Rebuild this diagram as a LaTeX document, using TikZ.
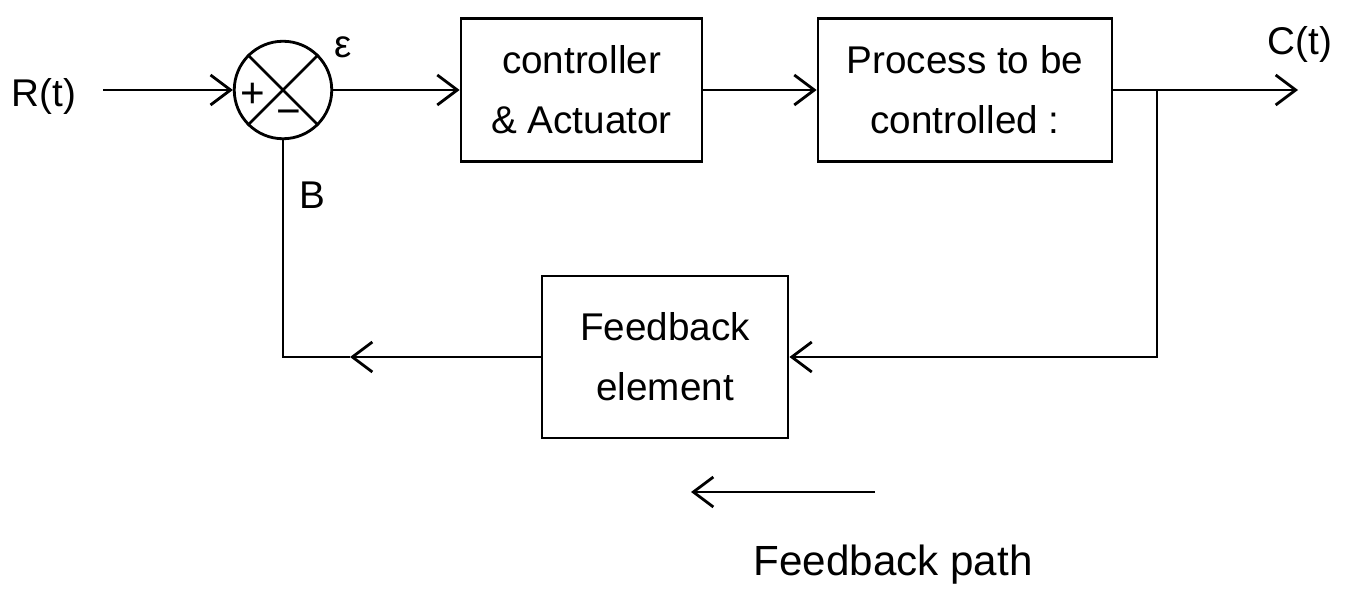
\documentclass[tikz,border=0pt]{standalone}
\usepackage{fontspec}
\setmainfont{Liberation Sans}
\usetikzlibrary{arrows.meta}

\begin{document}
\begin{tikzpicture}
        [
            wire/.style = {line width = 1.6pt},
            signal/.style = {line width = 1.6pt, -{Straight Barb[length = 4mm, width = 6mm]}},
            block/.style = {draw, line width = 1.6pt, align = center, font = \fontsize{22}{34}\selectfont},
            lbl/.style = {font = \fontsize{22}{26}\selectfont},
            sign/.style = {font = \fontsize{24}{26}\selectfont, inner sep = 0pt}
        ]

        \useasboundingbox (0,0) rectangle (27,-11.96);

        % forward path
        \node [lbl] (input) at (0.88,-1.94) {R(t)};
        \coordinate (start) at (2.06,-1.8);
        \node [circle, draw, wire, minimum size = 1.95cm] (sum) at (5.66,-1.8) {};
        \draw [wire] (sum.north west) -- (sum.south east);
        \draw [wire] (sum.north east) -- (sum.south west);
        \node [sign] (plus) at ([xshift = -0.6cm, yshift = -0.1cm]sum.center) {+};
        \node [sign] (minus) at ([xshift = 0.12cm, yshift = -0.56cm]sum.center) {−};
        \node [lbl] (err) at (6.86,-0.94) {ε};
        \node [block, minimum width = 4.82cm, minimum height = 2.86cm] (ctrl) at (11.63,-1.8) {controller\\ \& Actuator};
        \node [block, minimum width = 5.88cm, minimum height = 2.86cm] (proc) at (19.3,-1.8) {Process to be\\ controlled :};
        \coordinate (branch) at (23.14,-1.8);
        \coordinate (output) at (25.96,-1.8);
        \node [lbl] (out) at (26,-0.9) {C(t)};

        % feedback path
        \node [block, minimum width = 4.92cm, minimum height = 3.24cm] (fb) at (13.3,-7.14) {Feedback\\ element};
        \node [lbl] (fbsig) at (6.24,-3.9) {B};
        \coordinate (corner) at (sum |- fb.west);
        \coordinate (mid) at (7.0,-7.14);

        \draw [signal] (start) -- (sum.west);
        \draw [signal] (sum.east) -- (ctrl.west);
        \draw [signal] (ctrl.east) -- (proc.west);
        \draw [signal] (proc.east) -- (output);
        \draw [signal] (branch) |- (fb.east);
        \draw [signal] (fb.west) -- (mid);
        \draw [wire] (mid) -- (corner) -- (sum.south);

        % note below
        \coordinate (notefrom) at (17.5,-9.84);
        \coordinate (noteto) at (13.82,-9.84);
        \draw [signal] (notefrom) -- (noteto);
        \node [font = \fontsize{24}{28}\selectfont] (notetext) at (17.86,-11.3) {Feedback path};
    \end{tikzpicture}
\end{document}
